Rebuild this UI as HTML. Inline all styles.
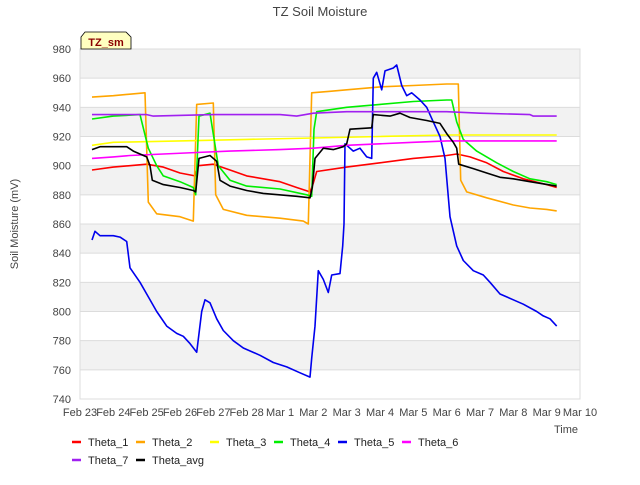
<!DOCTYPE html>
<html><head><meta charset="utf-8"><style>
body{margin:0;background:#fff;font-family:"Liberation Sans",sans-serif;}
svg text{font-family:"Liberation Sans",sans-serif;}
</style></head><body>
<svg id="chart" width="640" height="480"></svg>
<script>
const xTickLabels=["Feb 23","Feb 24","Feb 25","Feb 26","Feb 27","Feb 28","Mar 1","Mar 2","Mar 3","Mar 4","Mar 5","Mar 6","Mar 7","Mar 8","Mar 9","Mar 10"];
const yTicks=[740,760,780,800,820,840,860,880,900,920,940,960,980];
const seriesNames=["Theta_1","Theta_2","Theta_3","Theta_4","Theta_5","Theta_6","Theta_7","Theta_avg"];
const seriesColors=["#ff0000","#ffa500","#ffff00","#00ee00","#0000ee","#ff00ff","#a020f0","#000000"];
const theta1=[[0.36,897],[1,899],[2,901],[2.5,899],[3,895],[3.45,893],[3.55,900],[4,901],[4.5,897],[5,893],[6,889],[6.5,885],[6.9,882],[7.0,888],[7.1,896],[8,899],[9,902],[10,905],[11,907],[11.3,908],[11.7,906],[12.2,902],[12.7,896],[13.3,891],[14,887],[14.3,885]];
const theta2=[[0.36,947],[1,948],[1.95,950],[2.05,875],[2.3,867],[3,865],[3.4,862],[3.5,942],[4.0,943],[4.07,880],[4.3,870],[5,866],[6,864],[6.7,862],[6.85,860],[6.95,950],[7.5,951],[8,952],[9,954],[10,955],[11,956],[11.35,956],[11.42,890],[11.6,882],[12.2,878],[13,873],[13.5,871],[14,870],[14.3,869]];
const theta3=[[0.36,914],[1,916],[3,917],[5,918],[7,919],[9,920],[11,921],[14.3,921]];
const theta4=[[0.36,932],[1,934],[1.8,935],[2.05,912],[2.3,900],[2.5,893],[3,889],[3.4,885],[3.47,880],[3.57,934],[3.9,936],[4.15,900],[4.5,890],[5,886],[6,884],[6.8,880],[6.95,879],[7.02,925],[7.1,937],[8,940],[9,942],[10,944],[11,945],[11.15,945],[11.3,930],[11.5,918],[11.9,910],[12.5,902],[13,896],[13.5,891],[14,889],[14.3,887]];
const theta5=[[0.36,849],[0.45,855],[0.6,852],[1,852],[1.2,851],[1.4,848],[1.5,830],[1.8,820],[2,812],[2.3,800],[2.6,790],[2.9,785],[3.1,783],[3.3,778],[3.5,772],[3.65,800],[3.75,808],[3.9,806],[4.1,795],[4.3,787],[4.6,780],[4.9,775],[5.4,770],[5.8,765],[6.2,762],[6.6,758],[6.9,755],[6.95,768],[7.05,790],[7.15,828],[7.3,822],[7.45,813],[7.55,825],[7.8,826],[7.88,845],[7.92,860],[7.95,915],[8.2,910],[8.4,912],[8.6,906],[8.75,905],[8.8,960],[8.9,964],[9.05,952],[9.15,965],[9.4,967],[9.5,969],[9.65,955],[9.8,948],[9.95,950],[10.2,945],[10.4,940],[10.6,930],[10.8,920],[10.95,905],[11.1,865],[11.3,845],[11.5,835],[11.8,828],[12.1,825],[12.3,820],[12.6,812],[13,808],[13.3,805],[13.7,800],[13.9,797],[14.1,795],[14.3,790]];
const theta6=[[0.36,905],[1,906],[1.5,907],[2.5,908],[3.5,909],[4.5,910],[6,911],[7,912],[8,914],[9,915],[10,916],[11,917],[14.3,917]];
const theta7=[[0.36,935],[2,935],[2.2,934],[4,935],[6,935],[6.5,934],[7,936],[8,937],[11,937],[12,936],[13.5,935],[13.6,934],[14.3,934]];
const thetaAvg=[[0.36,911],[0.6,913],[1.4,913],[1.6,910],[2,906],[2.1,900],[2.17,890],[2.5,887],[3,885],[3.4,883],[3.47,882],[3.57,905],[3.9,907],[4.1,903],[4.2,890],[4.5,886],[5,883],[5.5,881],[6.5,879],[6.9,878],[6.97,885],[7.05,905],[7.3,912],[7.6,911],[7.9,913],[8.0,915],[8.1,925],[8.75,926],[8.8,935],[9.3,934],[9.6,936],[9.9,933],[10.4,931],[10.8,929],[11.0,922],[11.2,916],[11.3,912],[11.36,901],[11.8,898],[12.2,895],[12.6,892],[13,891],[13.5,889],[14.3,886]];
const allData=[theta1,theta2,theta3,theta4,theta5,theta6,theta7,thetaAvg];

const NS="http://www.w3.org/2000/svg";
const svg=document.getElementById('chart');
const L=80,R=580,T=49,B=399,Y0=740,Y1=980,D=15;
const xs=d=>L+(R-L)*d/D;
const ys=v=>B-(B-T)*(v-Y0)/(Y1-Y0);
function mk(tag,attrs,parent){const e=document.createElementNS(NS,tag);for(const k in attrs)e.setAttribute(k,attrs[k]);(parent||svg).appendChild(e);return e;}
for(let i=0;i<yTicks.length-1;i++){
  if(i%2===1){const r=mk('rect',{x:L,y:ys(yTicks[i+1]),width:R-L,height:ys(yTicks[i])-ys(yTicks[i+1]),fill:'#f2f2f2'});
  
  }
}
yTicks.forEach(v=>{
  const g=mk('line',{x1:L,x2:R,y1:ys(v),y2:ys(v),stroke:'#dcdcdc','stroke-width':1});
  
  
  const t=mk('text',{x:L-9,y:ys(v)+4,'text-anchor':'end','font-size':11,fill:'#444'});
  t.textContent=v;
  
  
});
const frame=mk('rect',{x:L,y:T,width:R-L,height:B-T,fill:'none',stroke:'#dcdcdc'});


xTickLabels.forEach((s,i)=>{
  const t=mk('text',{x:xs(i),y:416,'text-anchor':'middle','font-size':11,fill:'#444'});
  t.textContent=s;
  
  
});
allData.forEach((arr,i)=>{
  const p=mk('polyline',{points:arr.map(q=>xs(q[0]).toFixed(1)+','+ys(q[1]).toFixed(1)).join(' '),fill:'none',stroke:seriesColors[i],'stroke-width':1.6,'stroke-linejoin':'round'});
  
  
});
const title=mk('text',{x:320,y:16,'text-anchor':'middle','font-size':13,fill:'#444'});
title.textContent='TZ Soil Moisture';


const yt=mk('text',{x:18,y:224,'text-anchor':'middle','font-size':11,fill:'#444',transform:'rotate(-90 18 224)'});
yt.textContent='Soil Moisture (mV)';


const xt=mk('text',{x:578,y:433,'text-anchor':'end','font-size':11,fill:'#444'});
xt.textContent='Time';


const badge=mk('path',{d:'M81,49 L81,37 L85,32 L126,32 L131,37 L131,49 Z',fill:'#ffffc0',stroke:'#000','stroke-width':0.8});


const bt=mk('text',{x:106,y:46,'text-anchor':'middle','font-size':11,'font-weight':'bold',fill:'#8b0000'});
bt.textContent='TZ_sm';


seriesNames.forEach((n,i)=>{
  const x=i<6?[88,152,226,290,354,418][i]:[88,152][i-6];
  const y=i<6?442:460;
  const g=mk('g',{});
  
  
  mk('line',{x1:x-16,x2:x-7,y1:y,y2:y,stroke:seriesColors[i],'stroke-width':2.5},g);
  const t=mk('text',{x:x,y:y+4,'font-size':11,fill:'#222'},g);
  t.textContent=n;
});
</script>
</body></html>
